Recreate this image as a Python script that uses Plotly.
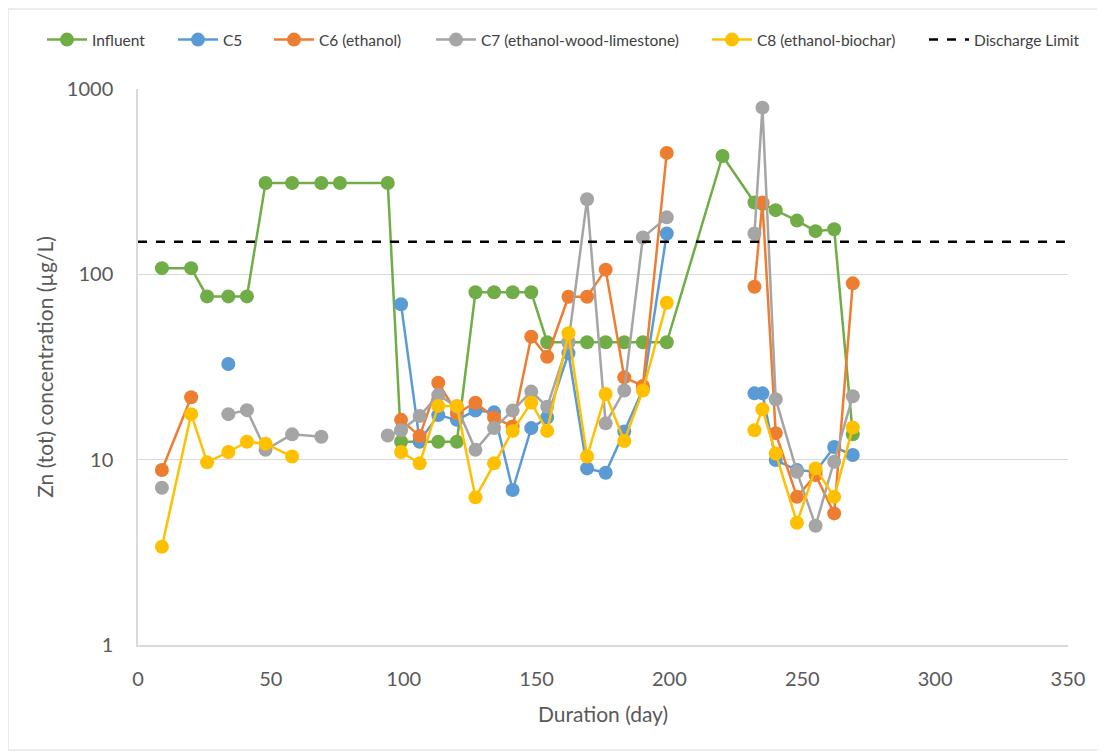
import plotly.graph_objects as go

days = [9, 20, 26, 34, 41, 48, 58, 69, 76, 94, 99, 106, 113, 120, 127, 134, 141, 148,
        154, 162, 169, 176, 183, 190, 199, 220, 232, 235, 240, 248, 255, 262, 269]

influent = [108, 108, 76, 76, 76, 311, 311, 311, 311, 311,
            12.5, 12.5, 12.5, 12.5, 80, 80, 80, 80, 43, 43, 43, 43, 43, 43, 43,
            435, 244, 240, 222, 195, 171, 175, 13.7]
c5 = [None, None, None, 32.8, None, None, None, None, None, None,
      68.9, 12.6, 17.4, 16.4, 18.4, 18.0, 6.86, 14.8, 16.9, 37.5, 8.97, 8.5, 14.2, 24.0, 166,
      None, 22.8, 22.8, 9.95, 8.79, 8.6, 11.7, 10.6]
c6 = [8.79, 21.7, None, None, None, None, None, None, None, None,
      16.4, 13.4, 26.0, 17.8, 20.3, 16.9, 15.1, 46.1, 35.9, 75.7, 75.7, 106, 27.8, 25.0, 452,
      None, 85.7, 244, 13.9, 6.3, 8.26, 5.13, 89.4]
c7 = [7.05, None, None, 17.6, 18.5, 11.3, 13.7, 13.3, None, 13.5,
      14.4, 17.2, 22.3, 19.3, 11.3, 14.8, 18.4, 23.3, 19.3, 43, 254, 15.7, 23.6, 158, 203,
      None, 166, 793, 21.2, 8.6, 4.4, 9.75, 22.0]
c8 = [3.39, 17.6, 9.67, 11.0, 12.5, 12.2, 10.4, None, None, None,
      11.0, 9.55, 19.5, 19.5, 6.26, 9.55, 14.3, 20.3, 14.3, 48.1, 10.4, 22.6, 12.6, 23.6, 70.3,
      None, 14.4, 18.7, 10.8, 4.57, 8.97, 6.3, 14.9]

limit_x = [0, 350]
limit_value = 150

series_names = ["Influent", "C5", "C6 (ethanol)", "C7 (ethanol-wood-limestone)", "C8 (ethanol-biochar)"]
series_values = [influent, c5, c6, c7, c8]
colors = ["#70AD47", "#5B9BD5", "#ED7D31", "#A5A5A5", "#FFC000"]

FONT = "Lato"
ML, MR, MT, MB = 130, 45, 81, 115
W, H = 1105, 752
PW = W - ML - MR
PH = H - MT - MB

# legend entry left edges (figure pixels)
legend_left_px = [34, 165, 261, 423, 699, 916]
legend_keys = ["legend", "legend2", "legend3", "legend4", "legend5", "legend6"]

fig = go.Figure()
for i, (name, vals, col) in enumerate(zip(series_names, series_values, colors)):
    fig.add_trace(go.Scatter(
        x=days, y=vals, name=name, mode="lines+markers",
        line=dict(color=col, width=2.5),
        marker=dict(color=col, size=14),
        connectgaps=False, legend=legend_keys[i],
    ))

fig.add_trace(go.Scatter(
    x=limit_x, y=[limit_value, limit_value], name="Discharge Limit", mode="lines",
    line=dict(color="black", width=2.5, dash="dash"), legend=legend_keys[5],
))

legend_layout = {}
for key, px in zip(legend_keys, legend_left_px):
    legend_layout[key] = dict(
        orientation="h", x=(px - ML) / PW, xanchor="left",
        y=(PH + MT - 32) / PH, yanchor="middle",
        font=dict(size=15.5, color="#404040", family=FONT), itemwidth=40,
        bgcolor="rgba(0,0,0,0)")

fig.update_layout(
    width=W, height=H,
    paper_bgcolor="white", plot_bgcolor="white",
    margin=dict(l=ML, r=MR, t=MT, b=MB),
    font=dict(family=FONT, color="#595959"),
    showlegend=True,
    xaxis=dict(range=[0, 350], tickvals=[0, 50, 100, 150, 200, 250, 300, 350],
               showgrid=False, zeroline=False, showline=True, linecolor="#D9D9D9", linewidth=1.5,
               ticks="", tickfont=dict(size=20, color="#595959"), ticklabelstandoff=15,
               title=dict(text="Duration (day)", font=dict(size=21, color="#595959"), standoff=19)),
    yaxis=dict(type="log", range=[0, 3], tickvals=[1, 10, 100, 1000],
               ticktext=["1", "10", "100", "1000"],
               showgrid=True, gridcolor="#D9D9D9", gridwidth=1.2, zeroline=False,
               showline=True, linecolor="#D9D9D9", linewidth=1.5,
               ticks="", tickfont=dict(size=20, color="#595959"), ticklabelstandoff=19,
               title=dict(text="Zn (tot) concentration (µg/L)", font=dict(size=21, color="#595959"), standoff=7)),
    shapes=[dict(type="rect", xref="paper", yref="paper",
                 x0=(0 - ML) / PW, x1=(1092 - ML) / PW,
                 y0=(PH + MT - 742) / PH, y1=(PH + MT - 1) / PH,
                 line=dict(color="#D9D9D9", width=1), fillcolor="rgba(0,0,0,0)", layer="below")],
    **legend_layout,
)

fig.write_html("out.html")
